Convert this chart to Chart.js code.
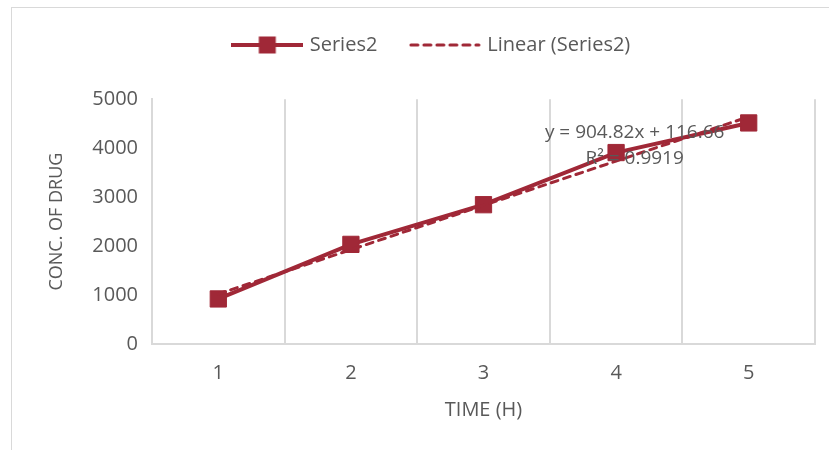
<!DOCTYPE html>
<html>
<head>
<meta charset="utf-8">
<script src="https://cdn.jsdelivr.net/npm/chart.js@4.4.1/dist/chart.umd.min.js"></script>
<style>
  html, body { margin: 0; padding: 0; background: #ffffff; overflow: hidden; }
  #wrap { position: relative; width: 829px; height: 450px; }
  #frame { position: absolute; left: 11px; top: 7px; width: 900px; height: 500px;
           border: 1px solid #d9d9d9; box-sizing: border-box; }
  #c { position: absolute; left: 0; top: 0; }
</style>
</head>
<body>
<div id="wrap">
  <div id="frame"></div>
  <canvas id="c" width="829" height="450"></canvas>
</div>
<script>
// Sampling times (h) and measured drug concentration
const timeLabels = ['1', '2', '3', '4', '5'];
const concSeries = [920, 2035, 2845, 3910, 4515];
// Linear fit y = 904.82x + 116.66 evaluated at x = 1..5
const trendSeries = [1021.48, 1926.30, 2831.12, 3735.94, 4640.76];
const equationLines = ['y = 904.82x + 116.66', 'R² = 0.9919'];
const legendNames = ['Series2', 'Linear (Series2)'];

const RED = '#a02837';
const TEXT = '#595959';
const GRID = '#d9d9d9';
const FONT = "'Open Sans', sans-serif";

// Small legend swatches: a line with a square marker, and a dashed line
function makeSwatch(dashed) {
  const cv = document.createElement('canvas');
  cv.width = 72; cv.height = 20;
  const g = cv.getContext('2d');
  g.strokeStyle = RED;
  g.lineCap = dashed ? 'round' : 'butt';
  g.lineWidth = dashed ? 3 : 4;
  if (dashed) g.setLineDash([7, 6]);
  g.beginPath();
  g.moveTo(dashed ? 2 : 0, 10);
  g.lineTo(dashed ? 70 : 72, 10);
  g.stroke();
  if (!dashed) {
    g.fillStyle = RED;
    g.fillRect(36 - 8.5, 10 - 8.5, 17, 17);
  }
  return cv;
}
const swatches = [makeSwatch(false), makeSwatch(true)];

// Trendline equation drawn above the series, anchored in data space
const equationLabel = {
  id: 'equationLabel',
  afterDatasetsDraw(chart) {
    const { ctx, scales: { x, y } } = chart;
    const px = x.getPixelForValue(3.14);
    ctx.save();
    ctx.font = "19px " + FONT;
    ctx.fillStyle = TEXT;
    ctx.textAlign = 'center';
    ctx.textBaseline = 'middle';
    ctx.fillText(equationLines[0], px, y.getPixelForValue(4310));
    ctx.fillText(equationLines[1], px, y.getPixelForValue(3785));
    ctx.restore();
  }
};

new Chart(document.getElementById('c'), {
  type: 'line',
  data: {
    labels: timeLabels,
    datasets: [
      {
        label: legendNames[0],
        data: concSeries,
        borderColor: RED,
        backgroundColor: RED,
        borderWidth: 4,
        pointStyle: 'rect',
        pointRadius: 11.5,
        pointBorderWidth: 1,
        pointBackgroundColor: RED,
        pointBorderColor: RED,
        tension: 0,
        order: 1
      },
      {
        label: legendNames[1],
        data: trendSeries,
        borderColor: RED,
        borderWidth: 3,
        borderDash: [7, 6],
        borderCapStyle: 'round',
        pointRadius: 0,
        tension: 0,
        order: 0
      }
    ]
  },
  options: {
    responsive: false,
    animation: false,
    devicePixelRatio: 1,
    layout: { padding: { top: 0, left: 50, right: 14, bottom: 0 } },
    plugins: {
      tooltip: { enabled: false },
      legend: {
        position: 'top',
        labels: {
          color: TEXT,
          font: { family: FONT, size: 20 },
          usePointStyle: true,
          pointStyleWidth: 65,
          padding: 35,
          generateLabels: () => legendNames.map((name, i) => ({
            text: name,
            pointStyle: swatches[i],
            fillStyle: RED,
            strokeStyle: RED,
            lineWidth: 0,
            hidden: false,
            datasetIndex: i,
            fontColor: TEXT
          }))
        }
      },
      subtitle: {
        display: true,
        text: ' ',
        font: { size: 1 },
        padding: { top: 3, bottom: 30 },
        weight: 500
      }
    },
    scales: {
      x: {
        type: 'category',
        offset: true,
        grid: { offset: true, color: GRID, lineWidth: 2, drawTicks: false },
        border: { color: GRID, width: 2 },
        ticks: { color: TEXT, font: { family: FONT, size: 20 }, padding: 17 },
        title: {
          display: true, text: 'TIME (H)', color: TEXT,
          font: { family: FONT, size: 20 }, padding: { top: 0, bottom: 28 }
        },
        afterFit: s => { s.height = 106; }
      },
      y: {
        min: 0,
        max: 5000,
        grid: { display: false, drawTicks: false },
        border: { display: true, color: GRID, width: 2 },
        ticks: {
          stepSize: 1000, color: TEXT, padding: 14,
          font: { family: FONT, size: 20 },
          callback: v => String(v)
        },
        title: {
          display: true, text: 'CONC. OF DRUG', color: TEXT,
          font: { family: FONT, size: 18 }, padding: { top: -4, bottom: 0 }
        },
        afterFit: s => { s.width = 102; }
      }
    }
  },
  plugins: [equationLabel]
});
</script>
</body>
</html>
